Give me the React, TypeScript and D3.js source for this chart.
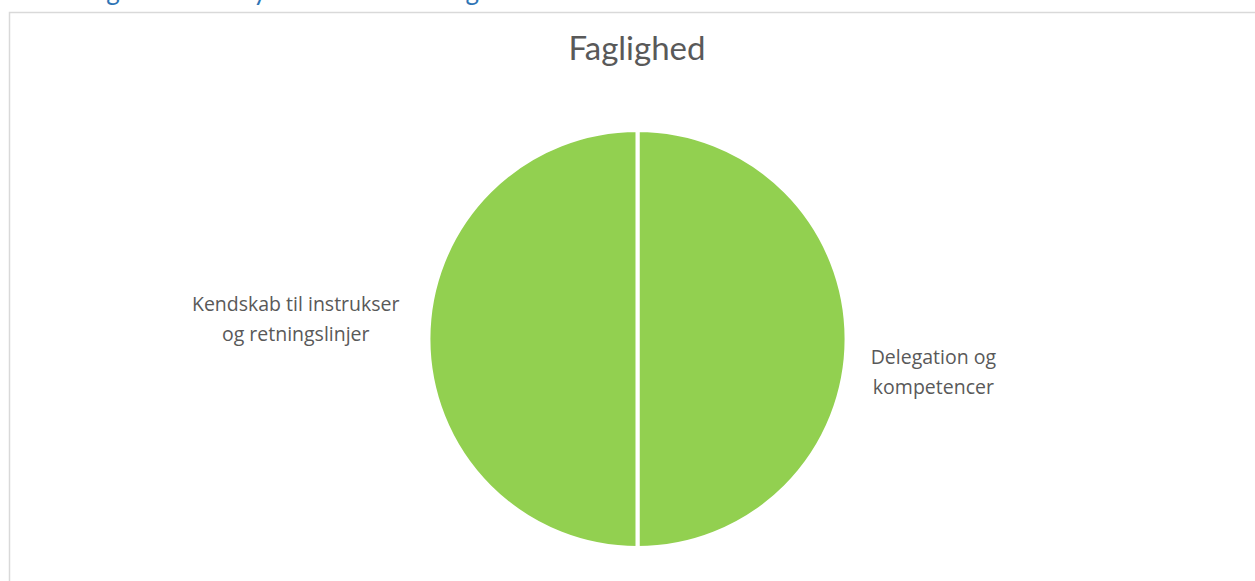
import React, { useEffect, useRef } from "react";
import * as d3 from "d3";

// chart data
const categories = ["Delegation og kompetencer", "Kendskab til instrukser og retningslinjer"];
const values = [1, 1];
// how each label is broken into lines
const labelLines = [
  ["Delegation og", "kompetencer"],
  ["Kendskab til instrukser", "og retningslinjer"],
];
const chartTitle = "Faglighed";
const pageHeading = "Vurdering af temaer i ydelser indenfor fagområdet";

const WIDTH = 1255;
const HEIGHT = 581;

const App: React.FC = () => {
  const svgRef = useRef<SVGSVGElement | null>(null);

  useEffect(() => {
    if (!svgRef.current) return;
    const svg = d3.select(svgRef.current);
    svg.selectAll("*").remove();

    // chart frame
    svg
      .append("rect")
      .attr("x", 9.5)
      .attr("y", 12.5)
      .attr("width", WIDTH + 20)
      .attr("height", HEIGHT + 20)
      .attr("fill", "#fff")
      .attr("stroke", "#d9d9d9")
      .attr("stroke-width", 1.5);

    // heading of the document, only its descenders show at the top
    svg
      .append("text")
      .attr("x", 8)
      .attr("y", -0.5)
      .attr("font-family", "Lato, sans-serif")
      .attr("font-size", 26)
      .attr("fill", "#2E74B5")
      .text(pageHeading);

    svg
      .append("text")
      .attr("x", 637)
      .attr("y", 60)
      .attr("text-anchor", "middle")
      .attr("font-family", "Lato, sans-serif")
      .attr("font-size", 33)
      .attr("fill", "#595959")
      .text(chartTitle);

    const cx = 637.5;
    const cy = 339;
    const r = 209;

    const pie = d3
      .pie<number>()
      .sort(null)
      .value((d) => d);
    const arcs = pie(values);
    const arc = d3.arc<d3.PieArcDatum<number>>().innerRadius(0).outerRadius(r);

    const g = svg.append("g").attr("transform", `translate(${cx},${cy})`);

    g.selectAll("path")
      .data(arcs)
      .enter()
      .append("path")
      .attr("d", arc)
      .attr("fill", "#92D050")
      .attr("stroke", "#fff")
      .attr("stroke-width", 4);

    // outside labels, Excel "best fit" style
    const labelTweak = [
      { dy: 25, gap: 24 },
      { dy: -28, gap: 29 },
    ];
    const lineH = 30;

    arcs.forEach((a, i) => {
      const mid = (a.startAngle + a.endAngle) / 2;
      const right = Math.sin(mid) >= 0;
      const x = Math.sin(mid) * (r + labelTweak[i].gap);
      const y = -Math.cos(mid) * r + labelTweak[i].dy;
      const t = g
        .append("text")
        .attr("font-family", "'Open Sans', sans-serif")
        .attr("font-size", 19.5)
        .attr("fill", "#595959")
        .attr("text-anchor", "middle");
      labelLines[i].forEach((ln, k) => {
        t.append("tspan").attr("x", 0).attr("y", y + k * lineH).text(ln);
      });
      // keep the block centred on itself, next to the pie edge
      const w = (t.node() as SVGTextElement).getBBox().width;
      const centre = right ? x + w / 2 : x - w / 2;
      t.selectAll("tspan").attr("x", centre);
      t.append("title").text(categories[i]);
    });
  }, []);

  return (
    <svg
      ref={svgRef}
      width={WIDTH}
      height={HEIGHT}
      style={{ position: "absolute", top: 0, left: 0, display: "block" }}
    />
  );
};

export default App;
